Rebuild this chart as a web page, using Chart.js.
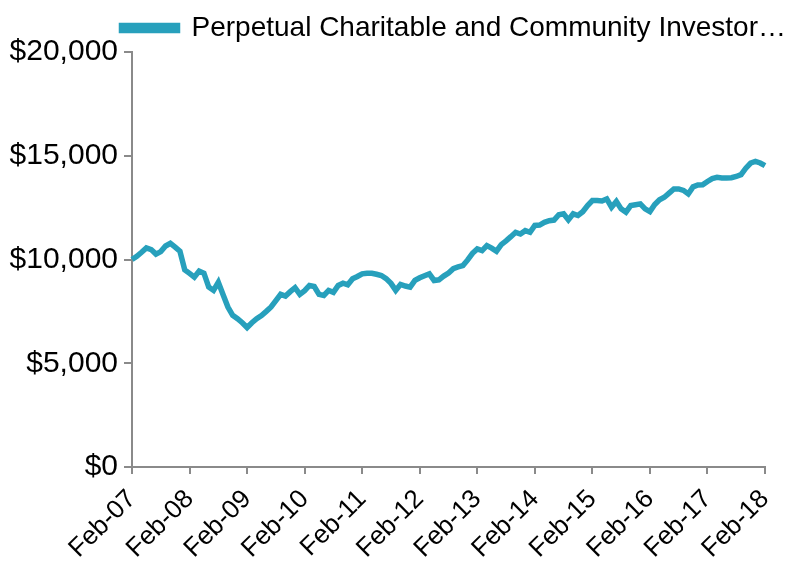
<!DOCTYPE html>
<html>
<head>
<meta charset="utf-8">
<title>Perpetual Charitable and Community Investor</title>
<script src="https://cdn.jsdelivr.net/npm/chart.js@4.4.1/dist/chart.umd.min.js"></script>
<style>
  html, body { margin: 0; padding: 0; background: #fff; }
  #wrap { width: 795px; height: 567px; }
</style>
</head>
<body>
<div id="wrap"><canvas id="chart" width="795" height="567"></canvas></div>
<script>
// growth of $10,000, monthly, Feb-07 .. Feb-18
const seriesName = 'Perpetual Charitable and Community Investor…';
const monthNames = ['Feb', 'Mar', 'Apr', 'May', 'Jun', 'Jul', 'Aug', 'Sep', 'Oct', 'Nov', 'Dec', 'Jan'];
const startYear = 2007;
const yTicks = [0, 5000, 10000, 15000, 20000];

const values = [
  10000, 10150, 10350, 10560, 10480, 10260, 10380, 10650, 10780, 10600, 10400, 9500,
  9330, 9150, 9440, 9340, 8670, 8510, 8900, 8300, 7710, 7310, 7150, 6950,
  6720, 6950, 7150, 7300, 7500, 7710, 8020, 8320, 8240, 8450, 8640, 8320,
  8500, 8750, 8700, 8320, 8270, 8510, 8420, 8750, 8860, 8780, 9070, 9180,
  9310, 9340, 9340, 9290, 9230, 9080, 8850, 8510, 8800, 8720, 8670, 8990,
  9120, 9220, 9310, 8990, 9020, 9200, 9350, 9560, 9640, 9710, 9980, 10300,
  10510, 10430, 10670, 10550, 10400, 10720, 10900, 11100, 11310, 11230, 11390, 11310,
  11640, 11660, 11790, 11870, 11900, 12160, 12200, 11910, 12200, 12120, 12300, 12600,
  12840, 12840, 12820, 12920, 12520, 12800, 12440, 12280, 12600, 12640, 12680, 12440,
  12310, 12650, 12880, 13000, 13200, 13400, 13400, 13330, 13160, 13500, 13590, 13600,
  13760, 13900, 13960, 13930, 13930, 13940, 14000, 14090, 14400, 14650, 14730, 14650,
  14520
];

// month labels, year rolls over at Jan
const labels = values.map((v, i) => {
  const m = monthNames[i % 12];
  const yr = startYear + Math.floor((i + 1) / 12);
  return m + '-' + String(yr % 100).padStart(2, '0');
});

const axisGrey = '#8a8a8a';
const lineColor = '#27a0bc';
const family = '"Liberation Sans", Arial, sans-serif';

// legend sits further right than the plot's right padding allows
const legendShift = {
  id: 'legendShift',
  afterLayout(chart) {
    chart.legend.left += 25;
    chart.legend.right += 25;
  },
};

new Chart(document.getElementById('chart').getContext('2d'), {
  type: 'line',
  data: {
    labels,
    datasets: [{
      label: seriesName,
      data: values,
      borderColor: lineColor,
      backgroundColor: lineColor,
      borderWidth: 5.5,
      pointRadius: 0,
      tension: 0,
    }],
  },
  options: {
    responsive: false,
    animation: false,
    layout: { padding: { top: 10, right: 30, left: 0, bottom: 0 } },
    plugins: {
      legend: {
        position: 'top',
        align: 'end',
        labels: {
          boxWidth: 56,
          boxHeight: 5,
          color: '#000',
          font: { family, size: 28 },
          padding: 4,
        },
      },
      tooltip: { enabled: false },
    },
    scales: {
      x: {
        type: 'category',
        offset: false,
        border: { color: axisGrey, width: 2 },
        grid: { drawOnChartArea: false, color: axisGrey, lineWidth: 2, tickLength: 7 },
        ticks: {
          autoSkip: false,
          maxRotation: 45,
          minRotation: 45,
          color: '#000',
          font: { family, size: 26 },
          padding: 10,
          callback: (val, idx) => (idx % 12 === 0 ? labels[idx] : null),
        },
        afterFit: s => { s.height = 100; s.paddingRight = 0; },
      },
      y: {
        min: 0,
        max: 20000,
        border: { color: axisGrey, width: 2 },
        grid: { drawOnChartArea: false, color: axisGrey, lineWidth: 2, tickLength: 8 },
        afterBuildTicks: s => { s.ticks = yTicks.map(v => ({ value: v })); },
        ticks: {
          color: '#000',
          font: { family, size: 30 },
          padding: 6,
          callback: v => '$' + Number(v).toLocaleString('en-US'),
        },
        afterFit: s => { s.width = 132; },
      },
    },
  },
  plugins: [legendShift],
});
</script>
</body>
</html>
